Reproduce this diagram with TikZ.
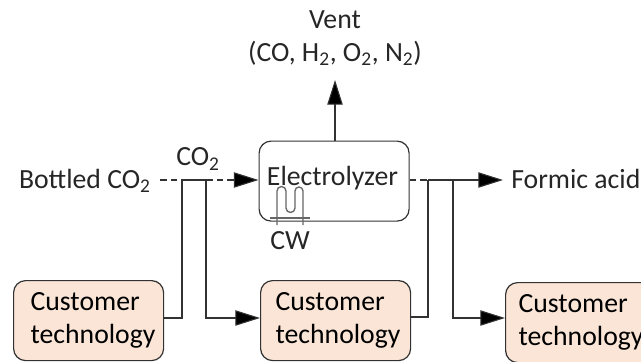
\documentclass[tikz,border=0pt]{standalone}
\usepackage{fontspec}
\setmainfont{Carlito}
\usepackage{tikz}
\usetikzlibrary{arrows.meta}
\definecolor{techfill}{RGB}{251,229,214}
\definecolor{inkgray}{RGB}{50,50,50}
\newcommand{\techtext}[1]{\hspace*{#1}Customer\\\hspace*{#1}technology}
\newcommand{\subtwo}{\textsubscript{2}}
\tikzset{
  unitbox/.style={draw=inkgray, line width=0.9pt, rounded corners=9pt, inner sep=0pt},
  techbox/.style={unitbox, fill=techfill, align=left, text width=112.5pt, minimum height=60pt},
  flowlabel/.style={inner sep=0pt, text=black!85},
  flow/.style={line width=0.8pt, draw=inkgray},
  flowhead/.style={flow, -{Triangle[length=18.5pt, width=11.5pt, fill=black]}},
  dashflow/.style={flow, dash pattern=on 5pt off 3pt},
  coilline/.style={flow, draw=gray!80!black, line width=1pt},
}
\begin{document}
\begin{tikzpicture}[x=0.75pt, y=-0.75pt, font=\fontsize{20.8}{25}\selectfont]
  \useasboundingbox (0,0) rectangle (641,361);
  % process units
  \node[unitbox, minimum width=112.5pt, minimum height=60pt, anchor=north west] (elec) at (258.5,140.5) {};
  \node[flowlabel] (eleclabel) at (332.5,178) {Electrolyzer};
  \node[techbox, anchor=north west] (techa) at (13,280) {\techtext{12.75pt}};
  \node[techbox, anchor=north west] (techb) at (260,280) {\techtext{11.25pt}};
  \node[techbox, anchor=north west] (techc) at (505,282) {\techtext{9.75pt}};
  % free labels
  \node[flowlabel] (vent) at (335,38) {\begin{tabular}{@{}c@{}}Vent\\(CO, H\subtwo, O\subtwo, N\subtwo)\end{tabular}};
  \node[flowlabel, anchor=east] (bottled) at (151,181) {Bottled CO\subtwo};
  \node[flowlabel] (cotwo) at (198,159) {CO\subtwo};
  \node[flowlabel, anchor=west] (formic) at (511,179) {Formic acid};
  \node[flowlabel] (cw) at (290,241) {CW};
  % junctions on the two main lines
  \coordinate (start) at (160,180);
  \coordinate (ja) at (182,180);
  \coordinate (jb) at (206,180);
  \coordinate (jc) at (428,180);
  \coordinate (jd) at (453,180);
  \coordinate (headin) at (232,180);
  \coordinate (formicend) at (503,180);
  % feed side
  \draw[dashflow] (start) -- (ja);
  \draw[flow] (ja) -- (jb);
  \draw[dashflow] (jb) -- (headin);
  \draw[flowhead] (headin) -- (elec.west |- headin);
  \draw[flow] (techa.east |- 0,318) -| (ja);
  \draw[flowhead] (jb) |- (techb.west |- 0,318);
  % product side
  \draw[dashflow] (elec.east |- jc) -- (jc);
  \draw[flowhead] (jc) -- (formicend);
  \draw[flow] (techb.east |- 0,317) -| (jc);
  \draw[flowhead] (jd) |- (techc.west |- 0,318);
  % vent
  \draw[flowhead] (elec.north -| vent) -- (335,80);
  % cooling coil
  \draw[coilline] (270,218) -- (310,218);
  \draw[coilline] (277,225) -- (277,191) arc (180:360:4.5) -- (286,208) arc (180:0:4.5) -- (295,191) arc (180:360:4) -- (303,225);
\end{tikzpicture}
\end{document}
